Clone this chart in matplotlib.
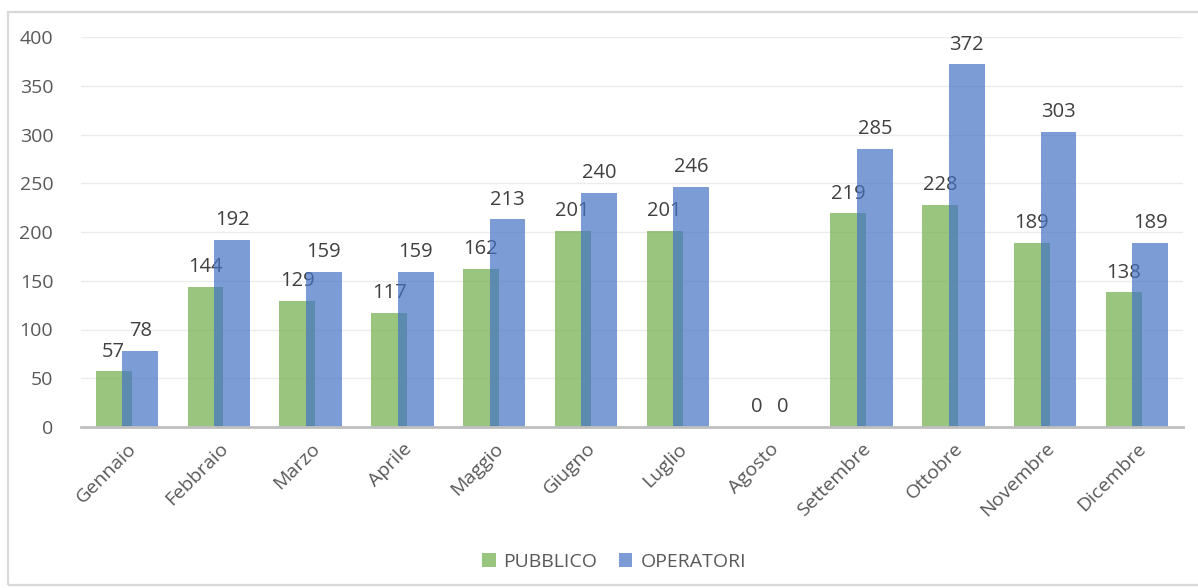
import matplotlib
matplotlib.use("Agg")
import matplotlib.pyplot as plt
import numpy as np
from matplotlib.patches import Rectangle

months = ["Gennaio", "Febbraio", "Marzo", "Aprile", "Maggio", "Giugno",
          "Luglio", "Agosto", "Settembre", "Ottobre", "Novembre", "Dicembre"]
pubblico = [57, 144, 129, 117, 162, 201, 201, 0, 219, 228, 189, 138]
operatori = [78, 192, 159, 159, 213, 240, 246, 0, 285, 372, 303, 189]
yticks = [0, 50, 100, 150, 200, 250, 300, 350, 400]

plt.rcParams['font.family'] = ['Open Sans', 'DejaVu Sans']
W, H = 1198, 588
fig = plt.figure(figsize=(W / 100, H / 100), dpi=100)
fig.patches.append(Rectangle((8 / W, 1 - 585 / H), 1.2, (585 - 12) / H,
                             transform=fig.transFigure, fill=False,
                             edgecolor='#d9d9d9', linewidth=1.6))

ax = fig.add_axes([81 / W, 1 - 427 / H, (1183 - 81) / W, (427 - 37) / H])
x = np.arange(len(months))
bw = 0.39
off = 0.145
green = '#70AD47'
blue = '#4472C4'
ax.bar(x - off, pubblico, bw, color=green, alpha=0.7, zorder=2, label='PUBBLICO')
for xi, v in zip(x - off, pubblico):
    ax.text(xi, v + 10, str(v), ha='center', va='bottom', fontsize=14.5,
            color='#404040', zorder=2.5)
ax.bar(x + off, operatori, bw, color=blue, alpha=0.7, zorder=3, label='OPERATORI')
for xi, v in zip(x + off, operatori):
    ax.text(xi, v + 10, str(v), ha='center', va='bottom', fontsize=14.5,
            color='#404040', zorder=4)

ax.set_xlim(-0.5, len(months) - 0.5)
ax.set_ylim(0, 400)
ax.set_yticks(yticks)
ax.set_yticklabels([str(t) for t in yticks], fontsize=14, color='#595959')
ax.set_xticks(x)
ax.set_xticklabels(months, rotation=45, ha='right', rotation_mode='anchor',
                   fontsize=14, color='#595959')
ax.tick_params(axis='both', length=0)
ax.tick_params(axis='y', pad=20)
ax.tick_params(axis='x', pad=9)
ax.grid(axis='y', color='#ececec', linewidth=1, zorder=0)
ax.set_axisbelow(True)
for s in ['top', 'right', 'left']:
    ax.spines[s].set_visible(False)
ax.spines['bottom'].set_color('#bfbfbf')
ax.spines['bottom'].set_linewidth(2)
ax.spines['bottom'].set_zorder(5)

fig.legend(loc='center', bbox_to_anchor=(614 / W, 1 - 562 / H), ncol=2,
           frameon=False, fontsize=14, handlelength=0.7, handleheight=0.7,
           columnspacing=1.1, handletextpad=0.4, labelcolor='#595959')

fig.savefig('out.png', dpi=100, facecolor='white')
